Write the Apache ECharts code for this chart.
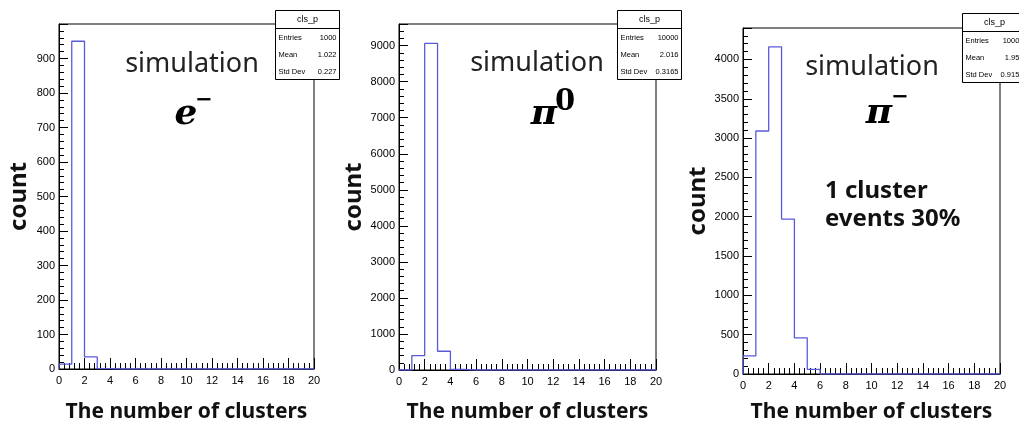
<!DOCTYPE html>
<html><head><meta charset="utf-8">
<script src="https://cdn.jsdelivr.net/npm/echarts@6/dist/echarts.min.js"></script>
<style>html,body{margin:0;padding:0;background:#fff}#c{width:1019px;height:427px}</style>
</head><body><div id="c"></div>
<script>
// ---- data ----
const binLowEdges = [0,1,2,3,4,5,6,7,8,9,10,11,12,13,14,15,16,17,18,19];
const eMinusCounts   = [14, 950, 35, 1, 0,0,0,0,0,0,0,0,0,0,0,0,0,0,0,0];
const pi0Counts      = [0, 400, 9060, 520, 20, 0,0,0,0,0,0,0,0,0,0,0,0,0,0,0];
const piMinusCounts  = [230, 3090, 4160, 1970, 460, 60, 0,0,0,0,0,0,0,0,0,0,0,0,0,0];
const statLabels = ['Entries', 'Mean', 'Std Dev'];
const statsEMinus  = ['1000', '1.022', '0.227'];
const statsPi0     = ['10000', '2.016', '0.3165'];
const statsPiMinus = ['10000', '1.954', '0.9153'];
const yTicksEMinus  = [0, 100, 200, 300, 400, 500, 600, 700, 800, 900];
const yTicksPi0     = [0, 1000, 2000, 3000, 4000, 5000, 6000, 7000, 8000, 9000];
const yTicksPiMinus = [0, 500, 1000, 1500, 2000, 2500, 3000, 3500, 4000];
const yMaxes = [1000, 9600, 4400];
const yIntervals = [100, 1000, 500];
const xTicks = [0, 20, 2];
const histName = 'cls_p';
const particleLabels = ['e', 'π', 'π'];
const particleSups = ['−', '0', '−'];

// ---- layout ----
const grids = [
  {left: 59, top: 24, width: 255, height: 345},
  {left: 399, top: 24, width: 257, height: 346},
  {left: 743, top: 28, width: 257, height: 346}
];
const countGaps = [28, 24, 27];
const xNameGaps = [33, 32, 28];
const statBoxes = [[275, 10], [617, 10], [962, 13]];
const simPos = [[192, 64], [537, 63], [872, 67]];
const basePos = [[186, 115], [544, 115], [879, 114]];
const supPos = [[204, 101], [565, 102], [900, 98]];
const supSizes = [21, 29, 21];
const counts = [eMinusCounts, pi0Counts, piMinusCounts];
const stats = [statsEMinus, statsPi0, statsPiMinus];
const yTickLists = [yTicksEMinus, yTicksPi0, yTicksPiMinus];
const BLUE = '#5a5ad8';

function stepLine(vals) {
  const pts = [[binLowEdges[0], 0]];
  vals.forEach((v, i) => {
    const lo = binLowEdges[i], hi = lo + 1;
    pts.push([lo, v]); pts.push([hi, v]);
  });
  pts.push([binLowEdges[binLowEdges.length - 1] + 1, 0]);
  return pts;
}

const tickFont = {fontFamily: 'Liberation Sans', fontSize: 11, color: '#000'};
const option = {
  animation: false,
  grid: grids.map(g => Object.assign({show: true, borderColor: '#000', outerBoundsMode: 'none'}, g)),
  xAxis: grids.map((g, i) => ({
    type: 'value', gridIndex: i, position: 'bottom', min: xTicks[0], max: xTicks[1], interval: xTicks[2],
    name: 'The number of clusters', nameLocation: 'middle', nameGap: xNameGaps[i],
    nameTextStyle: {fontFamily: 'Noto Sans', fontWeight: 'bold', fontSize: 21, color: '#111'},
    axisLine: {show: true, lineStyle: {color: '#000'}},
    axisTick: {show: true, inside: true, length: 11, lineStyle: {color: '#000'}},
    minorTick: {show: true, splitNumber: 5, length: 6, lineStyle: {color: '#000'}},
    axisLabel: Object.assign({margin: 6}, tickFont),
    splitLine: {show: false}
  })),
  yAxis: grids.map((g, i) => ({
    type: 'value', gridIndex: i, position: 'left', min: 0, max: yMaxes[i], interval: yIntervals[i],
    name: 'count', nameLocation: 'middle', nameGap: countGaps[i], nameRotate: 90,
    nameTextStyle: {fontFamily: 'Noto Sans', fontWeight: 'bold', fontSize: 24, color: '#111'},
    axisLine: {show: true, lineStyle: {color: '#000'}},
    axisTick: {show: true, inside: true, length: 9, lineStyle: {color: '#000'}},
    minorTick: {show: true, splitNumber: 5, length: 5, lineStyle: {color: '#000'}},
    axisLabel: Object.assign({margin: 4, formatter: v => (yTickLists[i].indexOf(v) >= 0 ? String(v) : '')}, tickFont),
    splitLine: {show: false}
  })),
  series: counts.map((c, i) => ({
    type: 'line', xAxisIndex: i, yAxisIndex: i, data: stepLine(c),
    showSymbol: false, symbol: 'none',
    lineStyle: {color: BLUE, width: 1.3}, z: 5
  })),
  graphic: []
};

// stats boxes
stats.forEach((s, i) => {
  const [bx, by] = statBoxes[i];
  const w = 64, h = 69, hh = 18;
  const children = [
    {type: 'rect', shape: {x: 0, y: 0, width: w, height: h}, style: {fill: '#fff', stroke: '#000', lineWidth: 1}},
    {type: 'line', shape: {x1: 0, y1: hh, x2: w, y2: hh}, style: {stroke: '#000', lineWidth: 1}},
    {type: 'text', x: w / 2, y: hh / 2, style: {text: histName, fontFamily: 'Liberation Sans', fontSize: 9, fill: '#000', align: 'center', verticalAlign: 'middle'}}
  ];
  statLabels.forEach((lab, r) => {
    const ry = hh + 9 + r * 17.3;
    children.push({type: 'text', x: 3, y: ry, style: {text: lab, fontFamily: 'Liberation Sans', fontSize: 7.5, fill: '#000', align: 'left', verticalAlign: 'middle'}});
    children.push({type: 'text', x: w - 3, y: ry, style: {text: s[r], fontFamily: 'Liberation Sans', fontSize: 7.5, fill: '#000', align: 'right', verticalAlign: 'middle'}});
  });
  option.graphic.push({type: 'group', x: bx + 0.5, y: by + 0.5, z: 100, children});
});

// simulation labels and particle labels
simPos.forEach((p, i) => {
  option.graphic.push({type: 'text', x: p[0], y: p[1], z: 90, style: {
    text: 'simulation', fontFamily: 'Noto Sans', fontSize: 27, fill: '#222', align: 'center', verticalAlign: 'middle'}});
  const bp = basePos[i], sp = supPos[i];
  option.graphic.push({type: 'text', x: bp[0], y: bp[1], z: 90, style: {
    text: particleLabels[i], fontFamily: 'DejaVu Serif', fontStyle: 'italic', fontWeight: 'bold', fontSize: 36,
    fill: '#000', align: 'center', verticalAlign: 'middle'}});
  option.graphic.push({type: 'text', x: sp[0], y: sp[1], z: 90, style: {
    text: particleSups[i], fontFamily: 'DejaVu Serif', fontWeight: 'bold', fontSize: supSizes[i],
    fill: '#000', align: 'center', verticalAlign: 'middle'}});
});

option.graphic.push({type: 'text', x: 825, y: 205, z: 90, style: {
  text: '1 cluster\nevents 30%', fontFamily: 'Noto Sans', fontWeight: 'bold', fontSize: 24, lineHeight: 28, fill: '#111', align: 'left', verticalAlign: 'middle'}});

const chart = echarts.init(document.getElementById('c'), null, {renderer: 'canvas'});
chart.setOption(option);
</script></body></html>
